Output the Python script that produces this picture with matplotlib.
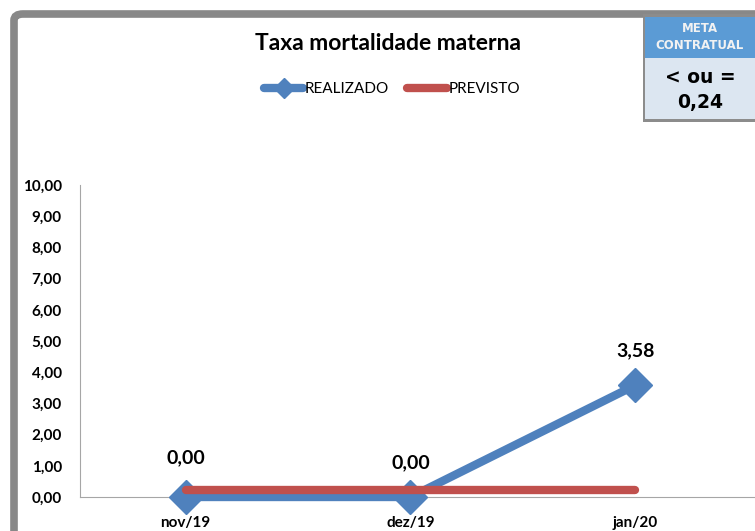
import matplotlib
matplotlib.use("Agg")
import matplotlib.pyplot as plt
from matplotlib.patches import FancyBboxPatch, Rectangle
from matplotlib.lines import Line2D

plt.rcParams['font.family'] = ['Lato', 'DejaVu Sans']

categories = ["nov/19", "dez/19", "jan/20"]
realizado = [0.00, 0.00, 3.58]
previsto = [0.24, 0.24, 0.24]
yticks = [0, 1, 2, 3, 4, 5, 6, 7, 8, 9, 10]
title = "Taxa mortalidade materna"
meta_label = "META\nCONTRATUAL"
meta_text = "< ou =\n0,24"

BLUE = "#4F81BD"
RED = "#C0504D"

fig = plt.figure(figsize=(7.55, 5.31), dpi=100)
W, H = 755, 531

def fx(px):
    return px / W

def fy(py):
    return 1 - py / H

# gray frame (left + top)
frame = FancyBboxPatch((fx(14), fy(600)), fx(1000), fy(14) - fy(600),
                       boxstyle="round,pad=0,rounding_size=0.012",
                       transform=fig.transFigure, facecolor="white",
                       edgecolor="#888888", linewidth=5.5, zorder=0)
fig.patches.append(frame)

ax = fig.add_axes([fx(80), fy(497), fx(755) - fx(80) + 0.02, fy(185) - fy(497)])
ax.set_zorder(3)
x = list(range(len(categories)))
ax.plot(x, realizado, color=BLUE, lw=6, marker="D", ms=17, mfc=BLUE, mec=BLUE,
        clip_on=False, zorder=3, solid_capstyle="round")
ax.plot(x, previsto, color=RED, lw=6, clip_on=False, zorder=4, solid_capstyle="round")

ax.set_xlim(-0.47, 2.6)
ax.set_ylim(0, 10)
ax.set_yticks(yticks)
ax.set_yticklabels([f"{v:.2f}".replace(".", ",") for v in yticks],
                   fontsize=11, fontweight="bold")
ax.set_xticks(x)
ax.set_xticklabels(categories, fontsize=11, fontweight="bold")
ax.tick_params(axis="x", length=0, pad=14)
ax.tick_params(axis="y", length=0, pad=13)
for s in ["top", "right"]:
    ax.spines[s].set_visible(False)
ax.spines["left"].set_color("#A6A6A6")
ax.spines["bottom"].set_color("#A6A6A6")
ax.patch.set_alpha(0)

offsets = [39, 34, 35]
for xi, v, off in zip(x, realizado, offsets):
    ax.annotate(f"{v:.2f}".replace(".", ","), (xi, v), xytext=(0, off * 0.72),
                textcoords="offset points", ha="center", va="center",
                fontsize=14, fontweight="bold")

# title
fig.text(fx(388), fy(44), title, ha="center", va="center", fontsize=16.5, fontweight="bold", zorder=5)

# legend
handles = [Line2D([], [], color=BLUE, lw=6, marker="D", ms=10, solid_capstyle="round"),
           Line2D([], [], color=RED, lw=6, solid_capstyle="round")]
leg = fig.legend(handles, ["REALIZADO", "PREVISTO"], loc="center", bbox_to_anchor=(fx(392), fy(89)),
                 ncol=2, frameon=False, fontsize=11, handlelength=2.6, handletextpad=0.1,
                 columnspacing=1.2)
leg.set_zorder(5)

# meta box
fig.patches.append(Rectangle((fx(643), fy(122)), fx(120), fy(14) - fy(122),
                             transform=fig.transFigure, facecolor="#8C8C8C", edgecolor="none", zorder=5))
fig.patches.append(Rectangle((fx(645), fy(58)), fx(120), fy(17) - fy(58),
                             transform=fig.transFigure, facecolor="#5B9BD5", edgecolor="none", zorder=6))
fig.patches.append(Rectangle((fx(645), fy(119)), fx(120), fy(58) - fy(119),
                             transform=fig.transFigure, facecolor="#DCE6F1", edgecolor="none", zorder=6))
fig.text(fx(700), fy(37), meta_label, ha="center", va="center", fontsize=8.5,
         fontweight="bold", color="#F2F2F2", linespacing=1.45, zorder=7,
         family=["DejaVu Sans"])
fig.text(fx(700), fy(90), meta_text, ha="center", va="center", fontsize=13.5,
         fontweight="bold", color="black", linespacing=1.4, zorder=7,
         family=["DejaVu Sans"])

fig.savefig("out.png", dpi=100)
